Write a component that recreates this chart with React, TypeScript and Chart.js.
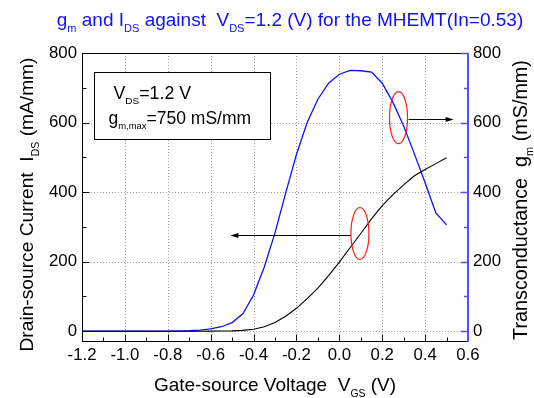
import React, { useEffect, useRef } from 'react';
import { Chart, registerables } from 'chart.js';

Chart.register(...registerables);

// ---- data ----
const VGS = [
  -1.2, -1.15, -1.1, -1.05, -1.0, -0.95, -0.9, -0.85, -0.8, -0.75, -0.7, -0.65,
  -0.6, -0.55, -0.5, -0.45, -0.4, -0.35, -0.3, -0.25, -0.2, -0.15, -0.1, -0.05,
  0.0, 0.05, 0.1, 0.15, 0.2, 0.25, 0.3, 0.35, 0.4, 0.45, 0.5,
];
const IDS = [
  0, 0, 0, 0, 0, 0, 0, 0, 0, 0, 0, 0.1,
  0.3, 0.6, 1.2, 2.5, 6, 13, 25, 43, 66, 94, 124, 160,
  199, 240, 281, 323, 361, 393, 421, 447, 465, 482, 499,
];
const GM = [
  0, 0, 0, 0, 0, 0, 0, 0.5, 0.5, 1, 1.5, 3,
  7, 13, 25, 50, 104, 185, 283, 398, 508, 600, 667, 713,
  739, 750, 749, 745, 713, 658, 590, 510, 427, 340, 306,
];

const X_MIN = -1.2;
const X_MAX = 0.6;
const Y_MIN = -28;
const Y_MAX = 800;
const X_TICKS = [-1.2, -1.0, -0.8, -0.6, -0.4, -0.2, 0.0, 0.2, 0.4, 0.6];
const X_MINOR = [-1.1, -0.9, -0.7, -0.5, -0.3, -0.1, 0.1, 0.3, 0.5];
const Y_TICKS = [0, 200, 400, 600, 800];
const Y_MINOR = [100, 300, 500, 700];

type Part = { t: string; sub?: boolean };
const TITLE: Part[] = [
  { t: 'g' }, { t: 'm', sub: true }, { t: ' and I' }, { t: 'DS', sub: true },
  { t: ' against  V' }, { t: 'DS', sub: true }, { t: '=1.2 (V) for the MHEMT(In=0.53)' },
];
const X_TITLE: Part[] = [{ t: 'Gate-source Voltage  V' }, { t: 'GS', sub: true }, { t: ' (V)' }];
const Y_TITLE: Part[] = [{ t: 'Drain-source Current  I' }, { t: 'DS', sub: true }, { t: ' (mA/mm)' }];
const Y2_TITLE: Part[] = [{ t: 'Transconductance  g' }, { t: 'm', sub: true }, { t: ' (mS/mm)' }];
const NOTE1: Part[] = [{ t: 'V' }, { t: 'DS', sub: true }, { t: '=1.2 V' }];
const NOTE2: Part[] = [{ t: 'g' }, { t: 'm,max', sub: true }, { t: '=750 mS/mm' }];

// annotation anchors in data coordinates
const NOTE_BOX = { x0: -1.143, x1: -0.322, y0: 745, y1: 553 };
const ELLIPSE_GM = { x: 0.276, y: 614 };
const ARROW_GM = { x0: 0.323, x1: 0.533, y: 610 };
const ELLIPSE_ID = { x: 0.096, y: 281 };
const ARROW_ID = { x0: 0.053, x1: -0.508, y: 276 };

const FONT = '"Liberation Sans", Arial, Helvetica, sans-serif';
const BLUE = '#1010ff';
const AXIS_BLUE = '#5050ff';

function measure(ctx: CanvasRenderingContext2D, parts: Part[], size: number, ratio: number) {
  let w = 0;
  for (const p of parts) {
    ctx.font = `${p.sub ? size * ratio : size}px ${FONT}`;
    w += ctx.measureText(p.t).width;
  }
  return w;
}

function drawRich(
  ctx: CanvasRenderingContext2D, parts: Part[], x: number, y: number, size: number,
  align: 'left' | 'center', color: string, ratio = 0.56,
) {
  const w = measure(ctx, parts, size, ratio);
  let cx = align === 'center' ? x - w / 2 : x;
  ctx.fillStyle = color;
  ctx.textAlign = 'left';
  ctx.textBaseline = 'alphabetic';
  for (const p of parts) {
    const s = p.sub ? size * ratio : size;
    ctx.font = `${s}px ${FONT}`;
    ctx.fillText(p.t, cx, y + (p.sub ? size * 0.3 : 0));
    cx += ctx.measureText(p.t).width;
  }
}

function seg(ctx: CanvasRenderingContext2D, x0: number, y0: number, x1: number, y1: number) {
  ctx.beginPath();
  ctx.moveTo(x0, y0);
  ctx.lineTo(x1, y1);
  ctx.stroke();
}

function arrow(ctx: CanvasRenderingContext2D, x0: number, x1: number, y: number) {
  const dir = Math.sign(x1 - x0);
  ctx.strokeStyle = '#000';
  ctx.fillStyle = '#000';
  ctx.lineWidth = 1;
  seg(ctx, x0, y, x1 - dir * 6, y);
  ctx.beginPath();
  ctx.moveTo(x1, y);
  ctx.lineTo(x1 - dir * 8, y - 2.5);
  ctx.lineTo(x1 - dir * 8, y + 2.5);
  ctx.closePath();
  ctx.fill();
}

const decor = {
  id: 'decor',
  beforeDatasetsDraw(chart: any) {
    const { ctx, chartArea: a, scales } = chart;
    const x = scales.x;
    const y = scales.y;
    ctx.save();
    ctx.strokeStyle = '#a0a0a0';
    ctx.lineWidth = 1;
    ctx.setLineDash([1, 2]);
    for (const v of X_TICKS) {
      if (v <= X_MIN + 1e-9 || v >= X_MAX - 1e-9) continue;
      const px = Math.round(x.getPixelForValue(v)) + 0.5;
      seg(ctx, px, a.top, px, a.bottom);
    }
    for (const v of Y_TICKS) {
      if (v >= Y_MAX) continue;
      const py = Math.round(y.getPixelForValue(v)) + 0.5;
      seg(ctx, a.left, py, a.right, py);
    }
    ctx.restore();
  },
  afterDatasetsDraw(chart: any) {
    const { ctx, chartArea: a, scales } = chart;
    const x = scales.x;
    const y = scales.y;
    const y1 = scales.y1;
    ctx.save();
    ctx.setLineDash([]);
    // borders
    ctx.strokeStyle = '#000';
    ctx.lineWidth = 1;
    const L = Math.round(a.left) + 0.5;
    const B = Math.round(a.bottom) + 0.5;
    const T = Math.round(a.top) + 0.5;
    const R = Math.round(a.right);
    seg(ctx, L, T, L, B);
    seg(ctx, a.left, B, a.right, B);
    seg(ctx, a.left, T, a.right, T);
    // bottom ticks
    for (const v of X_TICKS) {
      const px = Math.round(x.getPixelForValue(v)) + 0.5;
      seg(ctx, px, B, px, B - 7);
    }
    for (const v of X_MINOR) {
      const px = Math.round(x.getPixelForValue(v)) + 0.5;
      seg(ctx, px, B, px, B - 4);
    }
    // left ticks
    for (const v of Y_TICKS) {
      const py = Math.round(y.getPixelForValue(v)) + 0.5;
      seg(ctx, L, py, L + 7, py);
    }
    for (const v of Y_MINOR) {
      const py = Math.round(y.getPixelForValue(v)) + 0.5;
      seg(ctx, L, py, L + 4, py);
    }
    // right axis (blue)
    ctx.strokeStyle = AXIS_BLUE;
    ctx.lineWidth = 2;
    seg(ctx, R, a.top, R, a.bottom + 1);
    ctx.lineWidth = 1.5;
    for (const v of Y_TICKS) {
      const py = Math.round(y1.getPixelForValue(v)) + 0.5;
      seg(ctx, R, py, R - 7, py);
    }
    for (const v of Y_MINOR) {
      const py = Math.round(y1.getPixelForValue(v)) + 0.5;
      seg(ctx, R, py, R - 4, py);
    }

    // note box
    const bx0 = Math.round(x.getPixelForValue(NOTE_BOX.x0)) + 0.5;
    const bx1 = Math.round(x.getPixelForValue(NOTE_BOX.x1)) + 0.5;
    const by0 = Math.round(y.getPixelForValue(NOTE_BOX.y0)) + 0.5;
    const by1 = Math.round(y.getPixelForValue(NOTE_BOX.y1)) + 0.5;
    ctx.fillStyle = '#fff';
    ctx.fillRect(bx0, by0, bx1 - bx0, by1 - by0);
    ctx.strokeStyle = '#000';
    ctx.lineWidth = 1;
    ctx.strokeRect(bx0, by0, bx1 - bx0, by1 - by0);
    drawRich(ctx, NOTE1, bx0 + 19, by0 + 26, 17.8, 'left', '#000', 0.56);
    drawRich(ctx, NOTE2, bx0 + 14, by0 + 51, 17.5, 'left', '#000', 0.54);

    // ellipses
    ctx.strokeStyle = '#ff1a1a';
    ctx.lineWidth = 1.2;
    for (const e of [ELLIPSE_GM, ELLIPSE_ID]) {
      ctx.beginPath();
      ctx.ellipse(x.getPixelForValue(e.x), y.getPixelForValue(e.y), 9, 26, 0, 0, Math.PI * 2);
      ctx.stroke();
    }
    // arrows
    arrow(ctx, x.getPixelForValue(ARROW_GM.x0), x.getPixelForValue(ARROW_GM.x1), Math.round(y.getPixelForValue(ARROW_GM.y)) + 0.5);
    arrow(ctx, x.getPixelForValue(ARROW_ID.x0), x.getPixelForValue(ARROW_ID.x1), Math.round(y.getPixelForValue(ARROW_ID.y)) + 0.5);

    // title
    drawRich(ctx, TITLE, 290, 26, 19, 'center', BLUE, 0.58);
    // x title
    drawRich(ctx, X_TITLE, 275, 391, 19, 'center', '#000', 0.55);
    // left title
    ctx.save();
    ctx.translate(33, 204.5);
    ctx.rotate(-Math.PI / 2);
    drawRich(ctx, Y_TITLE, 0, 0, 19.2, 'center', '#000', 0.55);
    ctx.restore();
    // right title
    ctx.save();
    ctx.translate(527, 200);
    ctx.rotate(-Math.PI / 2);
    drawRich(ctx, Y2_TITLE, 0, 0, 19.8, 'center', '#000', 0.55);
    ctx.restore();

    ctx.restore();
  },
};

export default function App() {
  const ref = useRef<HTMLCanvasElement | null>(null);
  useEffect(() => {
    if (!ref.current) return;
    const tickFont = { family: FONT, size: 16.8 };
    const chart = new Chart(ref.current, {
      type: 'line',
      data: {
        datasets: [
          {
            label: 'IDS',
            data: VGS.map((v, i) => ({ x: v, y: IDS[i] })),
            borderColor: '#000',
            borderWidth: 1.1,
            pointRadius: 0,
            tension: 0,
            yAxisID: 'y',
          },
          {
            label: 'gm',
            data: VGS.map((v, i) => ({ x: v, y: GM[i] })),
            borderColor: BLUE,
            borderWidth: 1.3,
            pointRadius: 0,
            tension: 0,
            yAxisID: 'y1',
          },
        ],
      },
      options: {
        animation: false,
        responsive: false,
        devicePixelRatio: 1,
        layout: { padding: { top: 53, left: 0, right: 0, bottom: 0 } },
        plugins: { legend: { display: false }, title: { display: false }, tooltip: { enabled: false } },
        scales: {
          x: {
            type: 'linear',
            min: X_MIN,
            max: X_MAX,
            afterBuildTicks: (s: any) => { s.ticks = X_TICKS.map((v) => ({ value: v })); },
            afterFit: (s: any) => { s.height = 57; },
            grid: { display: false, drawTicks: false },
            border: { display: false },
            ticks: {
              autoSkip: false,
              maxRotation: 0,
              padding: 4,
              color: '#000',
              font: tickFont,
              callback: (v: any) => Number(v).toFixed(1),
            },
          },
          y: {
            type: 'linear',
            position: 'left',
            min: Y_MIN,
            max: Y_MAX,
            afterBuildTicks: (s: any) => { s.ticks = Y_TICKS.map((v) => ({ value: v })); },
            afterFit: (s: any) => { s.width = 82; },
            grid: { display: false, drawTicks: false },
            border: { display: false },
            ticks: { padding: 5, color: '#000', font: tickFont, callback: (v: any) => String(v) },
          },
          y1: {
            type: 'linear',
            position: 'right',
            min: Y_MIN,
            max: Y_MAX,
            afterBuildTicks: (s: any) => { s.ticks = Y_TICKS.map((v) => ({ value: v })); },
            afterFit: (s: any) => { s.width = 66; },
            grid: { display: false, drawTicks: false },
            border: { display: false },
            ticks: { padding: 5, color: '#000', font: tickFont, callback: (v: any) => String(v) },
          },
        },
      },
      plugins: [decor],
    } as any);
    return () => chart.destroy();
  }, []);
  return (
    <div style={{ position: 'absolute', left: 0, top: 0, width: 534, height: 398, background: '#fff' }}>
      <canvas ref={ref} width={534} height={398} style={{ display: 'block', width: 534, height: 398 }} />
    </div>
  );
}
